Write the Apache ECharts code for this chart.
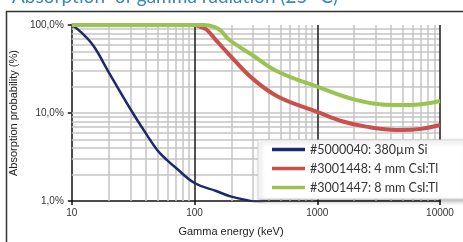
<!DOCTYPE html>
<html><head><meta charset="utf-8">
<script src="https://cdn.jsdelivr.net/npm/echarts@6/dist/echarts.min.js"></script>
<style>html,body{margin:0;padding:0;background:#fff;}#c{width:463px;height:242px;}</style>
</head><body><div id="c"></div>
<script>
var seriesNames = ['#5000040: 380µm Si', '#3001448: 4 mm CsI:Tl', '#3001447: 8 mm CsI:Tl'];
var xTicks = [10, 100, 1000, 10000];
var yTicks = [1, 10, 100];
var siData = [[10,100],[12,82],[15,58],[20,29],[30,11.1],[40,5.9],[50,3.75],[60,2.9],[70,2.4],[100,1.6],[150,1.3],[200,1.12],[300,0.99],[400,0.9]];
var csi4Data = [[10,100],[100,100],[106,98],[115,94],[126,88],[150,67],[193,45.6],[295,24.8],[480,15.3],[1000,10.3],[1620,8],[2500,7],[4830,6.4],[7000,6.6],[10000,7.3]];
var csi8Data = [[10,100],[120,100],[132,98.5],[145,95],[162,87],[193,67.5],[295,45.6],[480,29.4],[1000,19.9],[2060,14.1],[4280,12.3],[7000,12.6],[10000,13.7]];

var minorX = [], minorY = [];
for (var d = 10; d < 10000; d *= 10) for (var k = 2; k <= 9; k++) minorX.push(d * k);
for (var d2 = 1; d2 < 100; d2 *= 10) for (var k2 = 2; k2 <= 9; k2++) minorY.push(d2 * k2);

var gridLines = [];
minorX.forEach(function(v){ gridLines.push({xAxis: v, lineStyle:{color:'#c4c4c4', width:1.5, type:'solid'}}); });
minorY.concat([10]).forEach(function(v){ gridLines.push({yAxis: v, lineStyle:{color:'#c4c4c4', width:1.5, type:'solid'}}); });
[100, 1000, 10000].forEach(function(v){ gridLines.push({xAxis: v, lineStyle:{color:'#1a1a1a', width:1.5, type:'solid'}}); });

var chart = echarts.init(document.getElementById('c'));
chart.setOption({
  animation: false,
  backgroundColor: '#fff',
  grid: {left: 61, right: 23, top: 25, bottom: 41, containLabel: false},
  xAxis: {
    type: 'log', logBase: 10, min: 10, max: 10000,
    axisLine: {show: true, lineStyle: {color: '#111', width: 1.5}},
    axisTick: {show: true, length: 4, lineStyle: {color: '#111', width: 1.5}},
    axisLabel: {color: '#333', fontFamily: 'Liberation Sans', fontSize: 10, margin: 7,
      formatter: function(v){ return String(Math.round(v)); }},
    splitLine: {show: false}
  },
  yAxis: {
    type: 'log', logBase: 10, min: 1, max: 100,
    name: 'Absorption probability (%)', nameLocation: 'middle', nameGap: 40,
    nameTextStyle: {color: '#222', fontFamily: 'Liberation Sans', fontSize: 11},
    axisLine: {show: true, lineStyle: {color: '#111', width: 1.5}},
    axisTick: {show: true, length: 4, lineStyle: {color: '#111', width: 1.5}},
    axisLabel: {color: '#333', fontFamily: 'Liberation Sans', fontSize: 10, margin: 8,
      formatter: function(v){ return (Math.round(v)) + ',0%'; }},
    splitLine: {show: false}
  },
  legend: {
    orient: 'vertical', left: 258, top: 140, z: 20,
    data: seriesNames,
    icon: 'rect', itemWidth: 33, itemHeight: 3.5, itemGap: 6,
    textStyle: {color: '#333', fontFamily: 'Lato', fontSize: 12.5},
    backgroundColor: '#fff', borderColor: '#d8d8d8', borderWidth: 1,
    padding: [3, 26, 5, 14],
    shadowBlur: 4, shadowColor: 'rgba(0,0,0,0.3)', shadowOffsetX: 2, shadowOffsetY: 2
  },
  graphic: [
    {type: 'rect', left: 4, top: 9, shape: {x:0, y:0, width: 520, height: 300}, style: {fill: 'none', stroke: '#333', lineWidth: 1.5}, silent: true, z: 0},
    {type: 'text', left: 12, top: -13, style: {text: 'Absorption  of gamma radiation (25 °C)', font: '19px Lato', fill: '#3b86b8'}, z: 10},
    {type: 'text', x: 231, y: 232, style: {text: 'Gamma energy (keV)', font: '11px "Liberation Sans"', fill: '#222', align: 'center', verticalAlign: 'middle'}}
  ],
  series: [
    {type: 'line', name: '_grid', data: [], silent: true, z: 1,
      markLine: {silent: true, z: 1, symbol: 'none', label: {show: false}, animation: false, data: gridLines}},
    {type: 'line', name: seriesNames[0], data: siData, smooth: 0.4, showSymbol: false, z: 3,
      lineStyle: {color: '#1c2a6b', width: 2.5, type: 'solid'}, itemStyle: {color: '#1c2a6b'}},
    {type: 'line', name: seriesNames[1], data: csi4Data, smooth: 0.4, showSymbol: false, z: 3,
      lineStyle: {color: '#c9504b', width: 4, type: 'solid'}, itemStyle: {color: '#c9504b'}},
    {type: 'line', name: seriesNames[2], data: csi8Data, smooth: 0.4, showSymbol: false, z: 4,
      lineStyle: {color: '#9bc352', width: 4, type: 'solid'}, itemStyle: {color: '#9bc352'}}
  ]
});
</script></body></html>
